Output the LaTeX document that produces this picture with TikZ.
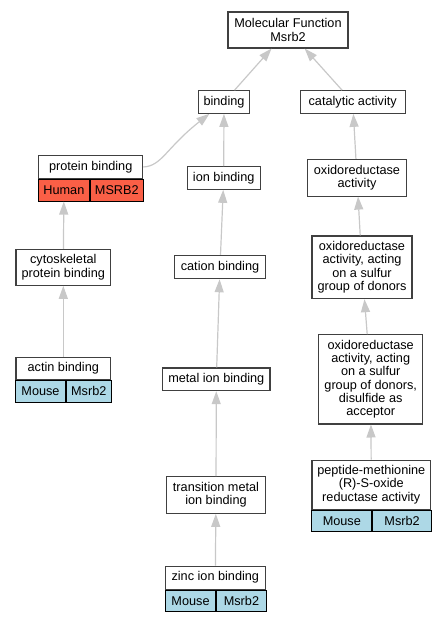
\documentclass[tikz,border=0pt]{standalone}
\usepackage{fontspec}
\setmainfont{Liberation Sans}
\usetikzlibrary{positioning}
\usetikzlibrary{arrows.meta}
\definecolor{edgegray}{RGB}{200,200,200}
\definecolor{boxgray}{RGB}{64,64,64}
\definecolor{human}{RGB}{250,95,70}
\definecolor{mouse}{RGB}{173,216,230}
\tikzset{term/.style={draw=boxgray, line width=1.1pt, fill=white, align=center, inner sep=0pt, font=\fontsize{12.7}{13.3}\selectfont}}
\tikzset{cell/.style={term, draw=black, line width=0.9pt, minimum height=21.4pt}}
\tikzset{edge/.style={draw=edgegray, line width=1.2pt, -{Triangle[length=13pt,width=9pt]}}}

\begin{document}
\begin{tikzpicture}[x=1pt,y=-1pt]
\useasboundingbox (0,0) rectangle (445,621);
% terms
\node[term, minimum width=120pt, minimum height=36pt] (mf) at (288,30) {Molecular Function\\Msrb2};
\node[term, minimum width=50.6pt, minimum height=22.6pt] (binding) at (224,102) {binding};
\node[term, minimum width=105.3pt, minimum height=22.6pt] (catalytic) at (352.7,102) {catalytic activity};
\node[term, minimum width=104pt, minimum height=23.4pt] (prot) at (90.7,167) {protein binding};
\node[term, minimum width=72.7pt, minimum height=22.6pt] (ionb) at (223.7,178) {ion binding};
\node[term, minimum width=99.4pt, minimum height=36.7pt] (oxido) at (357,177.7) {oxidoreductase\\activity};
\node[term, minimum width=94.7pt, minimum height=36pt] (cyto) at (63.3,267.3) {cytoskeletal\\protein binding};
\node[term, minimum width=90.6pt, minimum height=23.4pt] (cation) at (220,267) {cation binding};
\node[term, minimum width=100pt, minimum height=62.7pt] (sulfur) at (362,267.3) {oxidoreductase\\activity, acting\\on a sulfur\\group of donors};
\node[term, minimum width=94.7pt, minimum height=22pt] (actin) at (63.3,368.3) {actin binding};
\node[term, minimum width=107.3pt, minimum height=22.7pt] (metal) at (216.3,379.3) {metal ion binding};
\node[term, minimum width=104pt, minimum height=89.3pt] (disulf) at (370.7,379.3) {oxidoreductase\\activity, acting\\on a sulfur\\group of donors,\\disulfide as\\acceptor};
\node[term, minimum width=98.6pt, minimum height=36.6pt] (trans) at (216,495) {transition metal\\ion binding};
\node[term, minimum width=118.7pt, minimum height=49.3pt] (pept) at (371.3,484.7) {peptide-methionine\\(R)-S-oxide\\reductase activity};
\node[term, minimum width=100pt, minimum height=23.3pt] (zinc) at (215.3,577.7) {zinc ion binding};
% species cells
\node[cell, fill=human, minimum width=50.6pt, below right=0pt of prot.south west] (prothuman) {Human};
\node[cell, fill=human, minimum width=53.4pt, right=0pt of prothuman] (protgene) {MSRB2};
\node[cell, fill=mouse, minimum width=49.3pt, minimum height=22pt, below right=0pt of actin.south west] (actinmouse) {Mouse};
\node[cell, fill=mouse, minimum width=45.4pt, minimum height=22pt, right=0pt of actinmouse] (actingene) {Msrb2};
\node[cell, fill=mouse, minimum width=60pt, below right=0pt of pept.south west] (peptmouse) {Mouse};
\node[cell, fill=mouse, minimum width=58.7pt, right=0pt of peptmouse] (peptgene) {Msrb2};
\node[cell, fill=mouse, minimum width=50.7pt, below right=0pt of zinc.south west] (zincmouse) {Mouse};
\node[cell, fill=mouse, minimum width=49.3pt, right=0pt of zincmouse] (zincgene) {Msrb2};
% is-a links
\foreach \a/\b in {binding/mf, catalytic/mf, ionb/binding, oxido/catalytic, cyto/prothuman, cation/ionb, sulfur/oxido, actin/cyto, metal/cation, disulf/sulfur, trans/metal, pept/disulf, zinc/trans} {
\draw[edge] (\a) -- (\b);
}
\draw[edge] (prot.east) .. controls (162,166) and (166,148) .. (binding.-141);
\end{tikzpicture}
\end{document}
